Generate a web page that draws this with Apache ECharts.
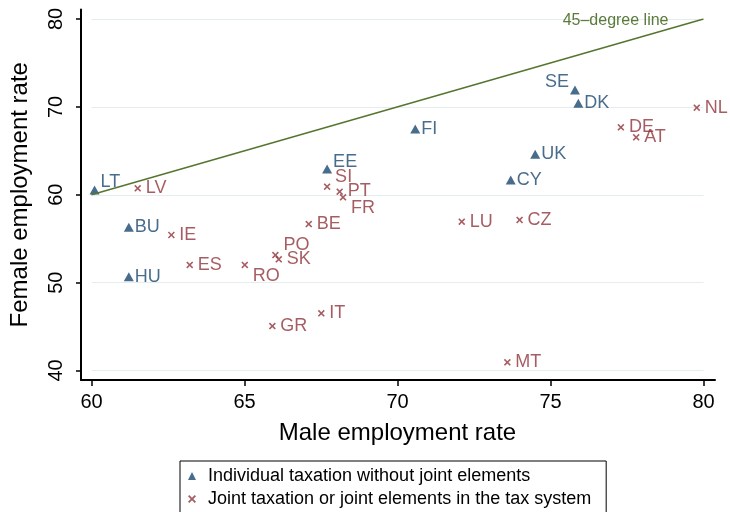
<!DOCTYPE html>
<html>
<head>
<meta charset="utf-8">
<title>Female vs male employment rate</title>
<script src="https://cdn.jsdelivr.net/npm/echarts@6.0.0/dist/echarts.min.js"></script>
<style>
  html, body { margin: 0; padding: 0; background: #fff; }
  #chart { width: 730px; height: 512px; }
</style>
</head>
<body>
<div id="chart"></div>
<script>
// individual taxation countries (triangles)
var indivNames  = ['LT', 'EE', 'FI', 'SE', 'DK', 'UK', 'CY', 'BU', 'HU'];
var indivMale   = [60.1, 67.7, 70.58, 75.8, 75.91, 74.5, 73.7, 61.22, 61.22];
var indivFemale = [60.54, 62.93, 67.48, 71.92, 70.41, 64.6, 61.68, 56.3, 50.67];

// joint taxation countries (crosses)
var jointNames  = ['LV', 'SI', 'PT', 'FR', 'BE', 'IE', 'PO', 'SK', 'ES', 'RO', 'IT', 'GR', 'LU', 'CZ', 'MT', 'DE', 'AT', 'NL'];
var jointMale   = [61.51, 67.7, 68.11, 68.22, 67.1, 62.61, 66.01, 66.12, 63.21, 65.01, 67.51, 65.91, 72.1, 73.99, 73.59, 77.3, 77.8, 79.78];
var jointFemale = [60.73, 60.92, 60.35, 59.71, 56.67, 55.42, 53.14, 52.65, 52.01, 52.01, 46.51, 45.06, 56.93, 57.13, 40.93, 67.68, 66.54, 69.91];

// 45-degree reference line
var refX = [60, 80];
var refY = [60, 80];

var xTicks = [60, 65, 70, 75, 80];
var yTicks = [40, 50, 60, 70, 80];

var legendA = 'Individual taxation without joint elements';
var legendB = 'Joint taxation or joint elements in the tax system';

var FONT = '"Liberation Sans", Arial, Helvetica, sans-serif';
var NAVY = '#1a476f', MAROON = '#90353b', GREEN = '#55752f';
var CROSS = 'path://M0,1.6L1.6,0L5,3.4L8.4,0L10,1.6L6.6,5L10,8.4L8.4,10L5,6.6L1.6,10L0,8.4L3.4,5Z';

// label placement tweaks (like stata's mlabvpos)
var labelNudge = {
    LT: { offset: [0, -8] },
    EE: { offset: [0, -7] },
    SI: { offset: [0, -10] },
    PT: { offset: [0, -1] },
    FR: { offset: [0, 11] },
    RO: { offset: [0, 11] },
    PO: { offset: [0, -10] },
    SE: { position: 'left', offset: [0, -8] }
};

function points(names, xs, ys) {
    return names.map(function (n, i) {
        var d = { name: n, value: [xs[i], ys[i]] };
        if (labelNudge[n]) d.label = labelNudge[n];
        return d;
    });
}

var tickStyle = { show: true, length: 6, lineStyle: { color: '#000', width: 1.5 } };

var chart = echarts.init(document.getElementById('chart'));
var option = {
    animation: false,
    backgroundColor: '#fff',
    textStyle: { fontFamily: FONT },
    grid: [
        { left: 91, right: 26.5, top: 19, bottom: 141.5 },   // data area
        { left: 81, right: 15, top: 9.5, bottom: 132 }       // outer frame (axis lines)
    ],
    legend: {
        data: [legendA, legendB],
        orient: 'vertical',
        left: 180,
        top: 461,
        height: 120,
        padding: [6, 15, 30, 8],
        itemGap: 5,
        itemWidth: 8,
        itemHeight: 8,
        borderColor: '#000',
        borderWidth: 1,
        selectedMode: false,
        textStyle: { fontSize: 18, color: '#000', fontFamily: FONT, padding: [0, 0, 0, 7] }
    },
    xAxis: [
        {
            gridIndex: 0, type: 'value',
            min: xTicks[0], max: xTicks[xTicks.length - 1], interval: 5,
            offset: 9.5,
            axisLine: { show: false },
            axisTick: tickStyle,
            axisLabel: { fontSize: 20, color: '#000', margin: 12, fontFamily: FONT },
            splitLine: { show: false },
            name: 'Male employment rate',
            nameLocation: 'middle',
            nameGap: 41,
            nameTextStyle: { fontSize: 24, color: '#000', fontFamily: FONT }
        },
        {
            gridIndex: 1, type: 'value', min: 0, max: 1,
            axisLine: { show: true, onZero: false, lineStyle: { color: '#000', width: 2 } },
            axisTick: { show: false }, axisLabel: { show: false }, splitLine: { show: false }
        }
    ],
    yAxis: [
        {
            gridIndex: 0, type: 'value',
            min: yTicks[0], max: yTicks[yTicks.length - 1], interval: 10,
            offset: 9.5,
            axisLine: { show: false },
            axisTick: tickStyle,
            axisLabel: { rotate: 90, fontSize: 20, color: '#000', margin: 16, fontFamily: FONT },
            splitLine: { show: true, lineStyle: { color: '#e6edf0', width: 1.2 } },
            name: 'Female employment rate',
            nameLocation: 'middle',
            nameGap: 50,
            nameTextStyle: { fontSize: 24, color: '#000', fontFamily: FONT }
        },
        {
            gridIndex: 1, type: 'value', min: 0, max: 1,
            axisLine: { show: true, onZero: false, lineStyle: { color: '#000', width: 2 } },
            axisTick: { show: false }, axisLabel: { show: false }, splitLine: { show: false }
        }
    ],
    series: [
        {
            type: 'line',
            xAxisIndex: 0, yAxisIndex: 0,
            data: refX.map(function (x, i) { return [x, refY[i]]; }),
            symbol: 'none',
            silent: true,
            lineStyle: { color: GREEN, width: 1.5 },
            endLabel: {
                show: true,
                formatter: '45–degree line',
                color: '#5b7a3a',
                fontSize: 16,
                fontFamily: FONT,
                align: 'right',
                offset: [-43, 2]
            }
        },
        {
            name: legendA,
            type: 'scatter',
            xAxisIndex: 0, yAxisIndex: 0,
            symbol: 'triangle',
            symbolSize: [10, 9],
            itemStyle: { color: NAVY },
            label: { show: true, position: 'right', distance: 1, formatter: '{b}', fontSize: 18, color: NAVY, fontFamily: FONT },
            data: points(indivNames, indivMale, indivFemale)
        },
        {
            name: legendB,
            type: 'scatter',
            xAxisIndex: 0, yAxisIndex: 0,
            symbol: CROSS,
            symbolSize: 7,
            itemStyle: { color: MAROON },
            label: { show: true, position: 'right', distance: 4.5, formatter: '{b}', fontSize: 18, color: MAROON, fontFamily: FONT },
            data: points(jointNames, jointMale, jointFemale)
        }
    ]
};
chart.setOption(option);
</script>
</body>
</html>
